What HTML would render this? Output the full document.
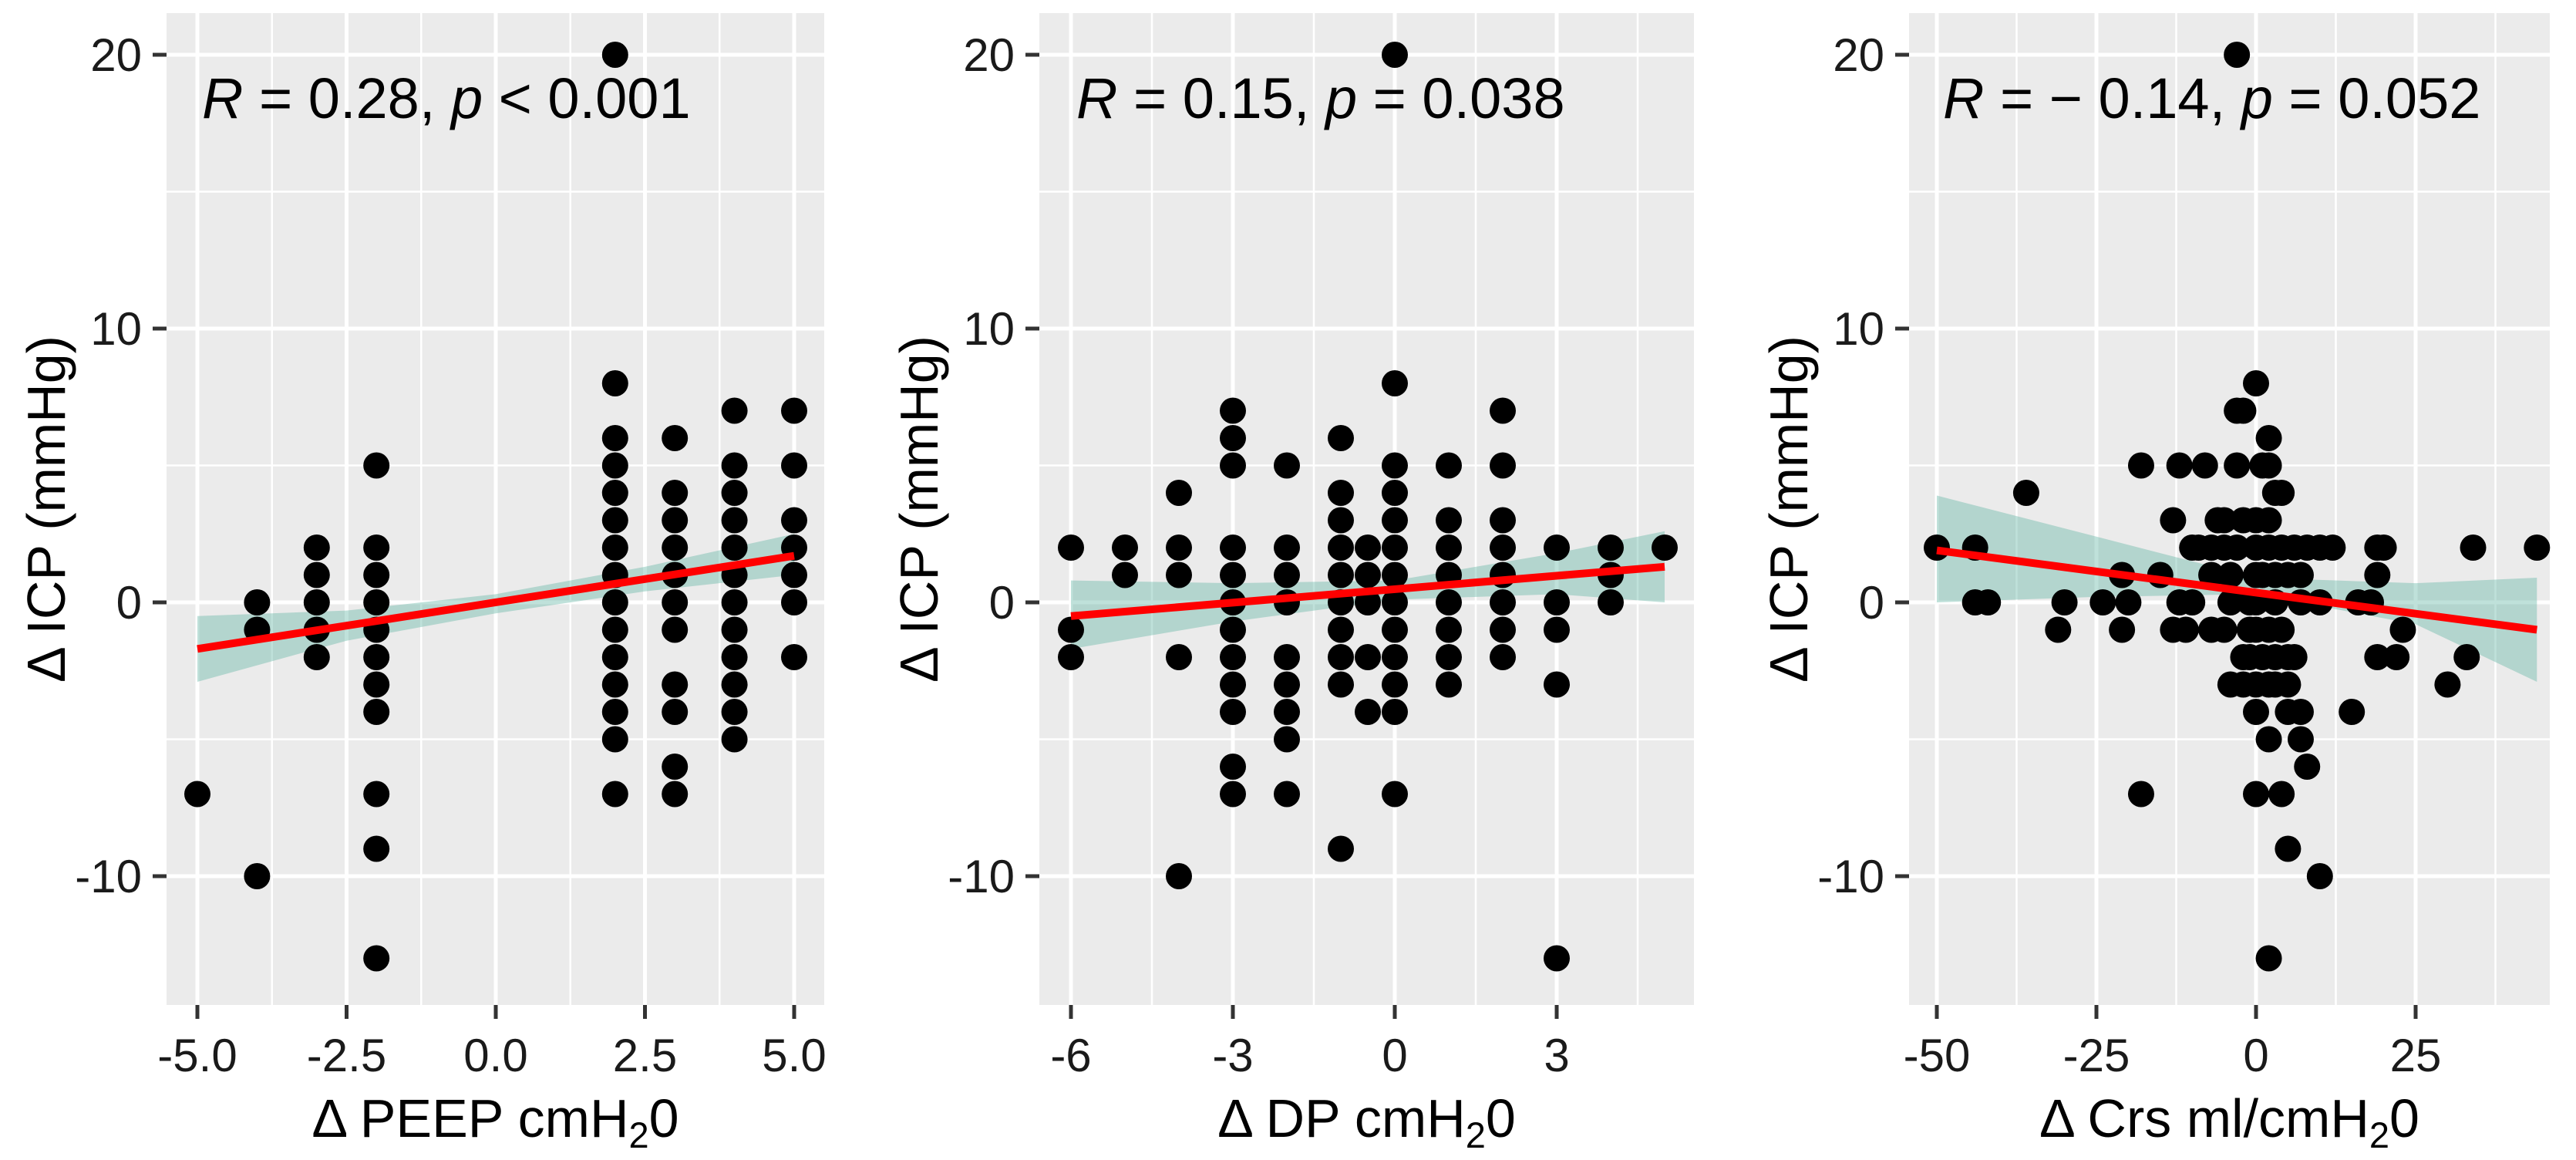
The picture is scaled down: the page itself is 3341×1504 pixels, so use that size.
<!DOCTYPE html>
<html><head><meta charset="utf-8"><style>
html,body{margin:0;padding:0;background:#fff;}
svg{display:block;font-family:"Liberation Sans",sans-serif;}
</style></head><body>
<svg id="fig" width="3341" height="1504" viewBox="0 0 3341 1504"></svg>
<script>
// ---------- data ----------
const peepX = [-5,-4,-4,-4,-3,-3,-3,-3,-3,-2,-2,-2,-2,-2,-2,-2,-2,-2,-2,-2,2,2,2,2,2,2,2,2,2,2,2,2,2,2,2,3,3,3,3,3,3,3,3,3,3,3,4,4,4,4,4,4,4,4,4,4,4,4,5,5,5,5,5,5,5];
const peepY = [-7,0,-1,-10,2,1,0,-1,-2,5,2,1,0,-1,-2,-3,-4,-7,-9,-13,20,8,6,5,4,3,2,1,0,-1,-2,-3,-4,-5,-7,6,4,3,2,1,0,-1,-3,-4,-6,-7,7,5,4,3,2,1,0,-1,-2,-3,-4,-5,7,5,3,2,1,0,-2];
const peepFit = [-5,-1.7,5,1.7];
const peepCiX = [-5,-2.5,0,2.5,5];
const peepCiLo = [-2.9,-1.4,-0.4,0.4,1.0];
const peepCiHi = [-0.5,-0.3,0.3,1.3,2.5];

const dpX = [-6,-6,-6,-5,-5,-4,-4,-4,-4,-4,-3,-3,-3,-3,-3,-3,-3,-3,-3,-3,-3,-3,-2,-2,-2,-2,-2,-2,-2,-2,-2,-1,-1,-1,-1,-1,-1,-1,-1,-1,-1,-0.5,-0.5,-0.5,-0.5,-0.5,0,0,0,0,0,0,0,0,0,0,0,0,0,1,1,1,1,1,1,1,1,2,2,2,2,2,2,2,2,3,3,3,3,3,4,4,4,5];
const dpY = [2,-1,-2,2,1,4,2,1,-2,-10,7,6,5,2,1,0,-1,-2,-3,-4,-6,-7,5,2,1,0,-2,-3,-4,-5,-7,6,4,3,2,1,0,-1,-2,-3,-9,2,1,0,-2,-4,20,8,5,4,3,2,1,0,-1,-2,-3,-4,-7,5,3,2,1,0,-1,-2,-3,7,5,3,2,1,0,-1,-2,2,0,-1,-3,-13,2,1,0,2];
const dpFit = [-6,-0.5,5,1.3];
const dpCiX = [-6,-3,0,3,5];
const dpCiLo = [-1.7,-0.7,0.1,0.3,0.0];
const dpCiHi = [0.8,0.7,0.8,1.8,2.6];

const crsX = [-50,-44,-44,-42,-36,-31,-30,-24,-21,-21,-20,-18,-18,-15,-12,-13,-12,-10,-13,-11,-8,-9,-10,-7,-5,-5,-4,-3,-2,-3,-5,-3,-2,-4,-2,-4,-2,-3,0,2,1,2,3,4,0,2,0,2,4,6,8,10,12,0,3,5,7,0,3,7,10,0,2,4,-1,1,3,5,6,0,2,5,0,5,7,2,7,8,0,4,5,10,2,15,16,18,19,20,19,19,22,23,30,33,34,44,-1,-1,1,-6,-7,3,-7];
const crsY = [2,2,0,0,4,-1,0,0,1,-1,0,5,-7,1,5,3,0,0,-1,-1,5,2,2,-1,3,-1,1,7,7,5,2,2,3,0,-2,-3,-3,20,8,6,5,5,4,4,3,3,2,2,2,2,2,2,2,1,1,1,1,0,0,0,0,-1,-1,-1,-2,-2,-2,-2,-2,-3,-3,-3,-4,-4,-4,-5,-5,-6,-7,-7,-9,-10,-13,-4,0,0,2,2,1,-2,-2,-1,-3,-2,2,2,-1,0,1,3,1,-3,2];
const crsFit = [-50,1.9,44,-1.0];
const crsCiX = [-50,-25,0,25,44];
const crsCiLo = [0.0,0.2,0.3,-0.8,-2.9];
const crsCiHi = [3.9,2.4,0.9,0.7,0.9];

const yTicks = [-10,0,10,20];
const yTickLabels = ["-10","0","10","20"];
const peepTicks = [-5,-2.5,0,2.5,5];
const peepTickLabels = ["-5.0","-2.5","0.0","2.5","5.0"];
const dpTicks = [-6,-3,0,3];
const dpTickLabels = ["-6","-3","0","3"];
const crsTicks = [-50,-25,0,25];
const crsTickLabels = ["-50","-25","0","25"];

// ---------- layout ----------
const NS = "http://www.w3.org/2000/svg";
const svg = document.getElementById('fig');
function mk(tag, attrs, parent){
  const e = document.createElementNS(NS, tag);
  for (const k in attrs) e.setAttribute(k, attrs[k]);
  (parent||svg).appendChild(e);
  return e;
}
const TOP = 17, BOT = 1303;
const yScale = v => 781 - v*35.5;

const panels = [
  {name:'peep', left:216, right:1069, x0:643, ppu:77.4, xs:peepX, ys:peepY, fit:peepFit, cx:peepCiX, lo:peepCiLo, hi:peepCiHi,
   ticks:peepTicks, labels:peepTickLabels, minor:[-3.75,-1.25,1.25,3.75], title:'PEEP cmH', sub:'2', tail:'0',
   ann:['0.28','<','0.001'], annX:262},
  {name:'dp', left:1348, right:2197, x0:1809, ppu:70, xs:dpX, ys:dpY, fit:dpFit, cx:dpCiX, lo:dpCiLo, hi:dpCiHi,
   ticks:dpTicks, labels:dpTickLabels, minor:[-4.5,-1.5,1.5,4.5], title:'DP cmH', sub:'2', tail:'0',
   ann:['0.15','=','0.038'], annX:1396},
  {name:'crs', left:2476, right:3307, x0:2926, ppu:8.28, xs:crsX, ys:crsY, fit:crsFit, cx:crsCiX, lo:crsCiLo, hi:crsCiHi,
   ticks:crsTicks, labels:crsTickLabels, minor:[-37.5,-12.5,12.5,37.5], title:'Crs ml/cmH', sub:'2', tail:'0',
   ann:['\u2212 0.14','=','0.052'], annX:2520}
];

panels.forEach(p=>{
  const xS = v => p.x0 + v*p.ppu;
  const g = mk('g', {});
  
  
  const bg = mk('rect', {x:p.left, y:TOP, width:p.right-p.left, height:BOT-TOP, fill:'#ebebeb'}, g);
  
  
  p.minor.forEach(v=>{ mk('line',{x1:xS(v),x2:xS(v),y1:TOP,y2:BOT,stroke:'#fff','stroke-width':2.5},g); });
  [-15,-5,5,15].forEach(v=>{ const y=yScale(v); if(y>TOP&&y<BOT) mk('line',{x1:p.left,x2:p.right,y1:y,y2:y,stroke:'#fff','stroke-width':2.5},g); });
  p.ticks.forEach(v=>{ mk('line',{x1:xS(v),x2:xS(v),y1:TOP,y2:BOT,stroke:'#fff','stroke-width':5},g); });
  yTicks.forEach(v=>{ mk('line',{x1:p.left,x2:p.right,y1:yScale(v),y2:yScale(v),stroke:'#fff','stroke-width':5},g); });
  let d = '';
  p.cx.forEach((v,i)=>{ d += (i?'L':'M') + xS(v) + ' ' + yScale(p.hi[i]) + ' '; });
  for (let i=p.cx.length-1;i>=0;i--) d += 'L' + xS(p.cx[i]) + ' ' + yScale(p.lo[i]) + ' ';
  const rib = mk('path',{d:d+'Z', fill:'#5fb3a3', 'fill-opacity':0.4}, g);
  
  
  p.xs.forEach((v,i)=>{
    const c = mk('circle',{cx:xS(v), cy:yScale(p.ys[i]), r:17, fill:'#000'}, g);
    
    
  });
  const ln = mk('line',{x1:xS(p.fit[0]),y1:yScale(p.fit[1]),x2:xS(p.fit[2]),y2:yScale(p.fit[3]),stroke:'#ff0000','stroke-width':10}, g);
  
  
  yTicks.forEach((v,i)=>{
    mk('line',{x1:p.left-18,x2:p.left,y1:yScale(v),y2:yScale(v),stroke:'#333','stroke-width':5},g);
    const t = mk('text',{x:p.left-32,y:yScale(v)+21,'text-anchor':'end','font-size':60,fill:'#1a1a1a'},g);
    t.textContent = yTickLabels[i];
    
    
  });
  p.ticks.forEach((v,i)=>{
    mk('line',{x1:xS(v),x2:xS(v),y1:BOT,y2:BOT+18,stroke:'#333','stroke-width':5},g);
    const t = mk('text',{x:xS(v),y:1389,'text-anchor':'middle','font-size':60,fill:'#1a1a1a'},g);
    t.textContent = p.labels[i];
    
    
  });
  const xt = mk('text',{x:(p.left+p.right)/2,y:1474,'text-anchor':'middle','font-size':70,fill:'#000'},g);
  xt.innerHTML = '\u0394 ' + p.title + '<tspan font-size="47" dy="14">' + p.sub + '</tspan><tspan dy="-14">' + p.tail + '</tspan>';
  
  
  const cy = (TOP+BOT)/2, cxp = p.left-132;
  const yt = mk('text',{x:cxp,y:cy,'text-anchor':'middle','font-size':70,fill:'#000',transform:'rotate(-90 '+cxp+' '+cy+')'},g);
  yt.textContent = '\u0394 ICP (mmHg)';
  
  
  const an = mk('text',{x:p.annX,y:153,'font-size':74,fill:'#000'},g);
  an.innerHTML = '<tspan font-style="italic">R</tspan> = ' + p.ann[0] + ', <tspan font-style="italic">p</tspan> ' + p.ann[1] + ' ' + p.ann[2];
  
  
});
</script>
</body></html>
